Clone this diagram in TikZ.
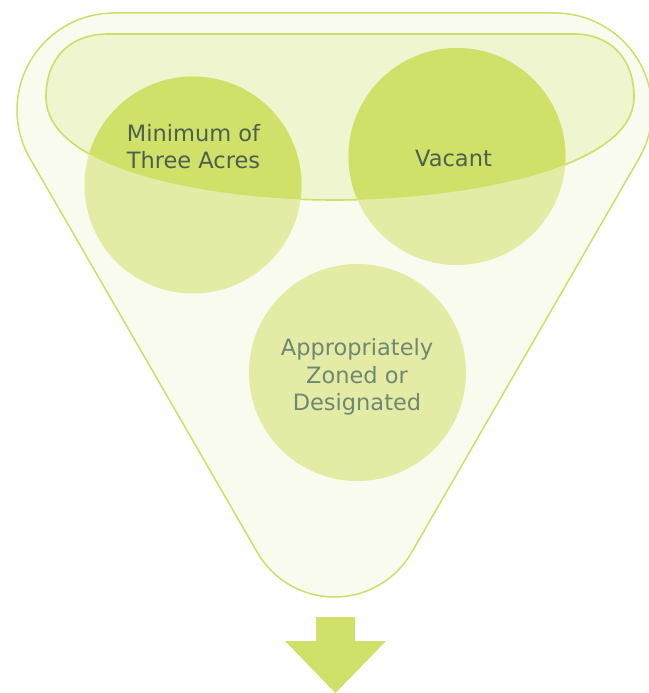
\documentclass[tikz,border=0pt]{standalone}
\usepackage{fontspec}
\setmainfont{DejaVu Sans}
\definecolor{outerfill}{HTML}{F9FBEE}
\definecolor{innerfill}{HTML}{EEF5CF}
\definecolor{edgec}{HTML}{CDDF68}
\definecolor{circlight}{HTML}{E3EBA4}
\definecolor{circdark}{HTML}{D0E068}
\definecolor{textdark}{HTML}{4C6050}
\definecolor{textlight}{HTML}{708774}
\begin{document}
\begin{tikzpicture}[x=1pt,y=1pt,
  outer/.style={fill=outerfill,draw=edgec,line width=1.5pt},
  inner/.style={fill=innerfill,draw=edgec,line width=1.6pt},
  circ/.style={circle,fill=circlight,minimum size=217pt,inner sep=0pt,draw=none},
  lbl/.style={font=\fontsize{22.5}{26.5}\selectfont,align=center,inner sep=0pt,text=textdark},
  lbllight/.style={lbl,text=textlight,font=\fontsize{22.5}{27.5}\selectfont},
  arrowshape/.style={fill=circdark}]
\useasboundingbox (0,0) rectangle (648,-693);
% outer funnel
\path[outer] (114,-13) arc[start angle=90,end angle=210,radius=97]
  -- (257.4,-552.5) arc[start angle=210,end angle=330,radius=89]
  -- (639,-158.5) arc[start angle=-30,end angle=90,radius=97] -- cycle;
% inner bowl
\path[inner] (46,-97) .. controls (46,-58) and (70,-34) .. (108,-34)
  -- (574,-34) .. controls (610,-34) and (634,-58) .. (634,-97)
  .. controls (634,-170) and (460,-200) .. (334,-200)
  .. controls (210,-200) and (46,-170) .. cycle;
% circles
\node[circ] (c1) at (193,-185) {};
\node[circ] (c2) at (457,-156.5) {};
\node[circ] (c3) at (357.5,-372.5) {};
\begin{scope}
  \clip (46,-97) .. controls (46,-58) and (70,-34) .. (108,-34)
  -- (574,-34) .. controls (610,-34) and (634,-58) .. (634,-97)
  .. controls (634,-170) and (460,-200) .. (334,-200)
  .. controls (210,-200) and (46,-170) .. cycle;
  \fill[circdark] (c1) circle[radius=108.5];
  \fill[circdark] (c2) circle[radius=108.5];
\end{scope}
% labels
\node[lbl] (t1) at (193.5,-146.5) {Minimum of\\Three Acres};
\node[lbl] (t2) at (453.5,-158.5) {Vacant};
\node[lbllight] (t3) at (357,-377) {Appropriately\\Zoned or\\Designated};
% down arrow
\fill[arrowshape] (316,-617) -- (355,-617) -- (355,-641) -- (386,-641)
  -- (335.5,-693) -- (285,-641) -- (316,-641) -- cycle;
\end{tikzpicture}
\end{document}
